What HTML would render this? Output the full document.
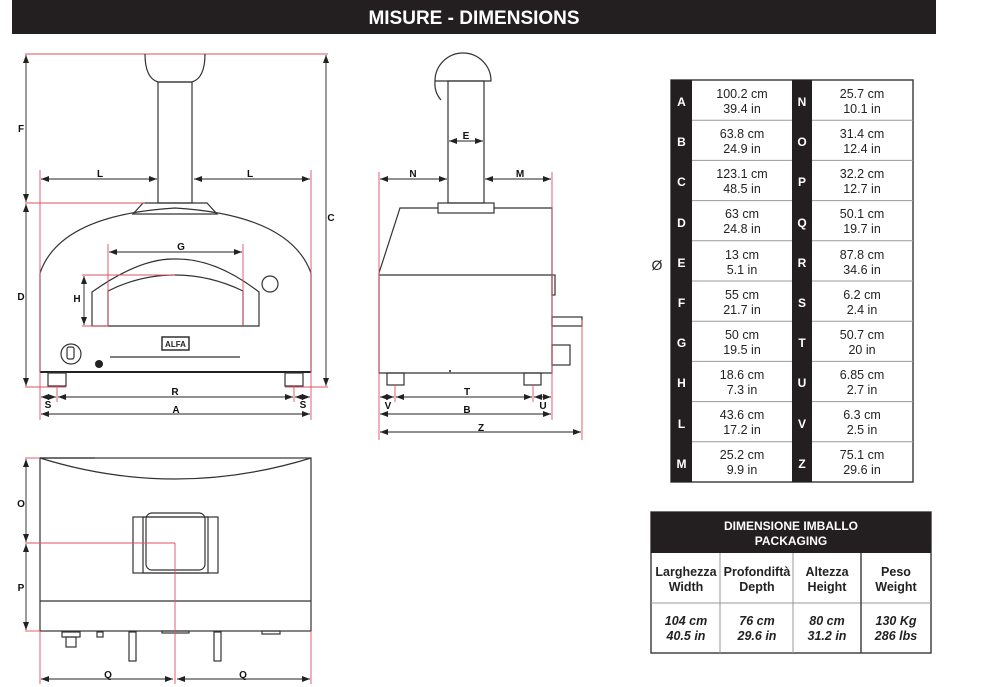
<!DOCTYPE html>
<html><head><meta charset="utf-8"><style>
html,body{margin:0;padding:0;background:#fff;width:1000px;height:687px;overflow:hidden}
svg{display:block}
text{font-family:"Liberation Sans",sans-serif}
.lb{font-size:10px;font-weight:bold;fill:#111;text-anchor:middle}
.o{fill:none;stroke:#333;stroke-width:1.2}
.d{stroke:#222;stroke-width:0.9;fill:none}
.r{stroke:#e05060;stroke-width:0.9;fill:none}
.tv{font-size:12.5px;fill:#222;text-anchor:middle}
.tl{font-size:12px;font-weight:bold;fill:#fff;text-anchor:middle}
</style></head><body>
<svg width="1000" height="687" viewBox="0 0 1000 687" xmlns="http://www.w3.org/2000/svg">
<defs>
<marker id="a" viewBox="0 0 8 6" refX="8" refY="3" markerWidth="8" markerHeight="6" orient="auto-start-reverse" markerUnits="userSpaceOnUse"><path d="M0,0L8,3L0,6z" fill="#222"/></marker>
</defs>
<!-- header -->
<rect x="12" y="0" width="924" height="34" fill="#231f20"/>
<text x="474" y="24" font-size="19" font-weight="bold" fill="#fff" text-anchor="middle">MISURE - DIMENSIONS</text>

<!-- FRONT VIEW -->
<line class="r" x1="25" y1="54" x2="328" y2="54"/>
<path class="o" d="M145,54 Q145,78 158,82 L192,82 Q205,78 205,54"/>
<rect class="o" x="158" y="82" width="34" height="121"/>
<path class="o" d="M143,203 L207,203 L217,214 L133,214 Z"/>
<path class="o" d="M40,273 Q60,215 175,208 Q290,215 311,273"/>
<line class="o" x1="40" y1="273" x2="40" y2="372"/>
<line class="o" x1="311" y1="273" x2="311" y2="372"/>
<line x1="40" y1="372" x2="311" y2="372" stroke="#222" stroke-width="2"/>
<rect class="o" x="48" y="373" width="18" height="13"/>
<rect class="o" x="285" y="373" width="18" height="13"/>
<path class="o" d="M92,326 L92,292 Q140,258 175,259 Q215,258 259,292 L259,326 Z"/>
<path class="o" d="M108,326 L108,291 Q140,275 175,275 Q210,275 243,291 L243,326"/>
<circle class="o" cx="270" cy="284" r="8"/>
<rect x="162" y="337" width="27" height="13" fill="none" stroke="#222" stroke-width="1.4"/>
<text x="175.5" y="347" font-size="8" font-weight="bold" text-anchor="middle" fill="#222">ALFA</text>
<line class="o" x1="110" y1="357" x2="240" y2="357"/>
<circle class="o" cx="71" cy="354" r="10"/><rect class="o" x="67" y="347" width="7" height="12" rx="2"/>
<circle cx="99" cy="364" r="4" fill="#222"/>
<!-- red guides front -->
<line class="r" x1="25" y1="203" x2="145" y2="203"/>
<line class="r" x1="25" y1="387" x2="66" y2="387"/>
<line class="r" x1="285" y1="387" x2="328" y2="387"/>
<line class="r" x1="40" y1="170" x2="40" y2="420"/>
<line class="r" x1="311" y1="170" x2="311" y2="420"/>
<line class="r" x1="108" y1="244" x2="108" y2="326"/>
<line class="r" x1="243" y1="244" x2="243" y2="326"/>
<line class="r" x1="82" y1="275" x2="175" y2="275"/>
<line class="r" x1="82" y1="326" x2="108" y2="326"/>
<line class="r" x1="57" y1="386" x2="57" y2="402"/>
<line class="r" x1="294" y1="386" x2="294" y2="402"/>
<!-- dims front -->
<line class="d" x1="26" y1="55" x2="26" y2="202" marker-start="url(#a)" marker-end="url(#a)"/>
<line class="d" x1="26" y1="204" x2="26" y2="386" marker-start="url(#a)" marker-end="url(#a)"/>
<line class="d" x1="326" y1="55" x2="326" y2="386" marker-start="url(#a)" marker-end="url(#a)"/>
<line class="d" x1="41" y1="179" x2="157" y2="179" marker-start="url(#a)" marker-end="url(#a)"/>
<line class="d" x1="194" y1="179" x2="310" y2="179" marker-start="url(#a)" marker-end="url(#a)"/>
<line class="d" x1="109" y1="252" x2="242" y2="252" marker-start="url(#a)" marker-end="url(#a)"/>
<line class="d" x1="84" y1="276" x2="84" y2="325" marker-start="url(#a)" marker-end="url(#a)"/>
<line class="d" x1="41" y1="397" x2="56" y2="397" marker-start="url(#a)" marker-end="url(#a)"/>
<line class="d" x1="58" y1="397" x2="293" y2="397" marker-start="url(#a)" marker-end="url(#a)"/>
<line class="d" x1="295" y1="397" x2="310" y2="397" marker-start="url(#a)" marker-end="url(#a)"/>
<line class="d" x1="41" y1="414" x2="310" y2="414" marker-start="url(#a)" marker-end="url(#a)"/>
<text class="lb" x="21" y="132">F</text>
<text class="lb" x="21" y="300">D</text>
<text class="lb" x="331" y="221">C</text>
<text class="lb" x="100" y="177">L</text>
<text class="lb" x="250" y="177">L</text>
<text class="lb" x="181" y="250">G</text>
<text class="lb" x="77" y="302">H</text>
<text class="lb" x="175" y="395">R</text>
<text class="lb" x="48" y="408">S</text>
<text class="lb" x="303" y="408">S</text>
<text class="lb" x="176" y="413">A</text>

<!-- SIDE VIEW -->
<path class="o" d="M435,81 A28,28 0 0 1 491,81 Z"/>
<path class="o" d="M435,81 Q434,92 441,100"/>
<rect class="o" x="448" y="81" width="36" height="122"/>
<rect class="o" x="438" y="203" width="56" height="10"/>
<path class="o" d="M438,208 L400,208 L379,273 L379,373 L552,373 L552,208 L494,208"/>
<line class="o" x1="379" y1="275" x2="552" y2="275"/>
<rect class="o" x="552" y="275" width="3" height="20"/>
<rect class="o" x="552" y="317" width="30" height="9"/>
<rect class="o" x="552" y="345" width="18" height="20"/>
<rect class="o" x="387" y="373" width="17" height="12"/>
<rect class="o" x="524" y="373" width="17" height="12"/>
<circle cx="450" cy="371" r="1" fill="#222"/>
<line class="r" x1="379" y1="172" x2="379" y2="440"/>
<line class="r" x1="552" y1="172" x2="552" y2="420"/>
<line class="r" x1="582" y1="320" x2="582" y2="440"/>
<line class="r" x1="395" y1="385" x2="395" y2="402"/>
<line class="r" x1="533" y1="385" x2="533" y2="402"/>
<line class="d" x1="449" y1="141" x2="483" y2="141" marker-start="url(#a)" marker-end="url(#a)"/>
<line class="d" x1="380" y1="179" x2="447" y2="179" marker-start="url(#a)" marker-end="url(#a)"/>
<line class="d" x1="485" y1="179" x2="551" y2="179" marker-start="url(#a)" marker-end="url(#a)"/>
<line class="d" x1="380" y1="397" x2="394" y2="397" marker-start="url(#a)" marker-end="url(#a)"/>
<line class="d" x1="396" y1="397" x2="532" y2="397" marker-start="url(#a)" marker-end="url(#a)"/>
<line class="d" x1="534" y1="397" x2="551" y2="397" marker-start="url(#a)" marker-end="url(#a)"/>
<line class="d" x1="380" y1="414" x2="551" y2="414" marker-start="url(#a)" marker-end="url(#a)"/>
<line class="d" x1="380" y1="432" x2="581" y2="432" marker-start="url(#a)" marker-end="url(#a)"/>
<text class="lb" x="466" y="139">E</text>
<text class="lb" x="413" y="177">N</text>
<text class="lb" x="520" y="177">M</text>
<text class="lb" x="467" y="395">T</text>
<text class="lb" x="388" y="409">V</text>
<text class="lb" x="543" y="409">U</text>
<text class="lb" x="467" y="413">B</text>
<text class="lb" x="481" y="431">Z</text>

<!-- TOP VIEW -->
<rect class="o" x="40" y="458" width="271" height="173"/>
<path class="o" d="M40,458 Q175,500 311,458"/>
<line class="o" x1="40" y1="601" x2="311" y2="601"/>
<line class="o" x1="40" y1="458" x2="95" y2="458"/>
<rect class="o" x="133" y="517" width="85" height="56"/>
<rect class="o" x="143" y="517" width="65" height="56"/>
<rect class="o" x="146" y="513" width="59" height="57" rx="6"/>
<rect class="o" x="62" y="632" width="18" height="5"/><rect class="o" x="66" y="637" width="10" height="10"/>
<rect class="o" x="97" y="632" width="6" height="5"/>
<rect class="o" x="129" y="632" width="7" height="29"/>
<rect class="o" x="214" y="632" width="7" height="29"/>
<rect class="o" x="162" y="631" width="27" height="2"/>
<rect class="o" x="262" y="631" width="18" height="3"/>
<line class="r" x1="25" y1="458" x2="40" y2="458"/>
<line class="r" x1="25" y1="543" x2="175" y2="543"/>
<line class="r" x1="175" y1="543" x2="175" y2="684"/>
<line class="r" x1="25" y1="631" x2="40" y2="631"/>
<line class="r" x1="40" y1="631" x2="40" y2="684"/>
<line class="r" x1="311" y1="631" x2="311" y2="684"/>
<line class="d" x1="26" y1="459" x2="26" y2="542" marker-start="url(#a)" marker-end="url(#a)"/>
<line class="d" x1="26" y1="544" x2="26" y2="630" marker-start="url(#a)" marker-end="url(#a)"/>
<line class="d" x1="41" y1="679" x2="173" y2="679" marker-start="url(#a)" marker-end="url(#a)"/>
<line class="d" x1="177" y1="679" x2="310" y2="679" marker-start="url(#a)" marker-end="url(#a)"/>
<text class="lb" x="21" y="507">O</text>
<text class="lb" x="21" y="591">P</text>
<text class="lb" x="108" y="678">Q</text>
<text class="lb" x="243" y="678">Q</text>

<!-- dims table -->
<text x="657" y="270" font-size="14" fill="#222" text-anchor="middle">Ø</text>
<rect x="671" y="80" width="242" height="402" fill="#fff" stroke="#444" stroke-width="1.5"/>
<rect x="671" y="80" width="21" height="402" fill="#231f20"/>
<rect x="792" y="80" width="20" height="402" fill="#231f20"/>
<g stroke="#999" stroke-width="1">
<line x1="692" y1="120.2" x2="792" y2="120.2"/><line x1="812" y1="120.2" x2="913" y2="120.2"/>
<line x1="692" y1="160.4" x2="792" y2="160.4"/><line x1="812" y1="160.4" x2="913" y2="160.4"/>
<line x1="692" y1="200.6" x2="792" y2="200.6"/><line x1="812" y1="200.6" x2="913" y2="200.6"/>
<line x1="692" y1="240.8" x2="792" y2="240.8"/><line x1="812" y1="240.8" x2="913" y2="240.8"/>
<line x1="692" y1="281" x2="792" y2="281"/><line x1="812" y1="281" x2="913" y2="281"/>
<line x1="692" y1="321.2" x2="792" y2="321.2"/><line x1="812" y1="321.2" x2="913" y2="321.2"/>
<line x1="692" y1="361.4" x2="792" y2="361.4"/><line x1="812" y1="361.4" x2="913" y2="361.4"/>
<line x1="692" y1="401.6" x2="792" y2="401.6"/><line x1="812" y1="401.6" x2="913" y2="401.6"/>
<line x1="692" y1="441.8" x2="792" y2="441.8"/><line x1="812" y1="441.8" x2="913" y2="441.8"/>
</g>
<g class="tl">
<text class="tl" x="681.5" y="106">A</text><text class="tl" x="681.5" y="146">B</text><text class="tl" x="681.5" y="186">C</text><text class="tl" x="681.5" y="227">D</text><text class="tl" x="681.5" y="267">E</text><text class="tl" x="681.5" y="307">F</text><text class="tl" x="681.5" y="347">G</text><text class="tl" x="681.5" y="387">H</text><text class="tl" x="681.5" y="428">L</text><text class="tl" x="681.5" y="468">M</text>
<text class="tl" x="802" y="106">N</text><text class="tl" x="802" y="146">O</text><text class="tl" x="802" y="186">P</text><text class="tl" x="802" y="227">Q</text><text class="tl" x="802" y="267">R</text><text class="tl" x="802" y="307">S</text><text class="tl" x="802" y="347">T</text><text class="tl" x="802" y="387">U</text><text class="tl" x="802" y="428">V</text><text class="tl" x="802" y="468">Z</text>
</g>
<g>
<text class="tv" x="742" y="98">100.2 cm</text><text class="tv" x="742" y="113">39.4 in</text>
<text class="tv" x="742" y="138">63.8 cm</text><text class="tv" x="742" y="153">24.9 in</text>
<text class="tv" x="742" y="178">123.1 cm</text><text class="tv" x="742" y="193">48.5 in</text>
<text class="tv" x="742" y="218">63 cm</text><text class="tv" x="742" y="233">24.8 in</text>
<text class="tv" x="742" y="259">13 cm</text><text class="tv" x="742" y="274">5.1 in</text>
<text class="tv" x="742" y="299">55 cm</text><text class="tv" x="742" y="314">21.7 in</text>
<text class="tv" x="742" y="339">50 cm</text><text class="tv" x="742" y="354">19.5 in</text>
<text class="tv" x="742" y="379">18.6 cm</text><text class="tv" x="742" y="394">7.3 in</text>
<text class="tv" x="742" y="419">43.6 cm</text><text class="tv" x="742" y="434">17.2 in</text>
<text class="tv" x="742" y="459">25.2 cm</text><text class="tv" x="742" y="474">9.9 in</text>
<text class="tv" x="862" y="98">25.7 cm</text><text class="tv" x="862" y="113">10.1 in</text>
<text class="tv" x="862" y="138">31.4 cm</text><text class="tv" x="862" y="153">12.4 in</text>
<text class="tv" x="862" y="178">32.2 cm</text><text class="tv" x="862" y="193">12.7 in</text>
<text class="tv" x="862" y="218">50.1 cm</text><text class="tv" x="862" y="233">19.7 in</text>
<text class="tv" x="862" y="259">87.8 cm</text><text class="tv" x="862" y="274">34.6 in</text>
<text class="tv" x="862" y="299">6.2 cm</text><text class="tv" x="862" y="314">2.4 in</text>
<text class="tv" x="862" y="339">50.7 cm</text><text class="tv" x="862" y="354">20 in</text>
<text class="tv" x="862" y="379">6.85 cm</text><text class="tv" x="862" y="394">2.7 in</text>
<text class="tv" x="862" y="419">6.3 cm</text><text class="tv" x="862" y="434">2.5 in</text>
<text class="tv" x="862" y="459">75.1 cm</text><text class="tv" x="862" y="474">29.6 in</text>
</g>

<!-- packaging table -->
<rect x="651" y="512" width="280" height="141" fill="#fff" stroke="#444" stroke-width="1.5"/>
<rect x="651" y="512" width="280" height="41" fill="#231f20"/>
<text x="791" y="530" font-size="12" font-weight="bold" fill="#fff" text-anchor="middle">DIMENSIONE IMBALLO</text>
<text x="791" y="545" font-size="12" font-weight="bold" fill="#fff" text-anchor="middle">PACKAGING</text>
<line x1="651" y1="603" x2="931" y2="603" stroke="#999"/>
<line x1="720" y1="553" x2="720" y2="653" stroke="#999"/>
<line x1="793" y1="553" x2="793" y2="653" stroke="#999"/>
<line x1="861" y1="553" x2="861" y2="653" stroke="#444" stroke-width="1.5"/>
<g font-size="12.5" font-weight="bold" fill="#222" text-anchor="middle">
<text x="686" y="576">Larghezza</text><text x="686" y="591">Width</text>
<text x="757" y="576">Profondiftà</text><text x="757" y="591">Depth</text>
<text x="827" y="576">Altezza</text><text x="827" y="591">Height</text>
<text x="896" y="576">Peso</text><text x="896" y="591">Weight</text>
</g>
<g font-size="12.5" font-weight="bold" font-style="italic" fill="#222" text-anchor="middle">
<text x="686" y="625">104 cm</text><text x="686" y="640">40.5 in</text>
<text x="757" y="625">76 cm</text><text x="757" y="640">29.6 in</text>
<text x="827" y="625">80 cm</text><text x="827" y="640">31.2 in</text>
<text x="896" y="625">130 Kg</text><text x="896" y="640">286 lbs</text>
</g>
</svg>
</body></html>
